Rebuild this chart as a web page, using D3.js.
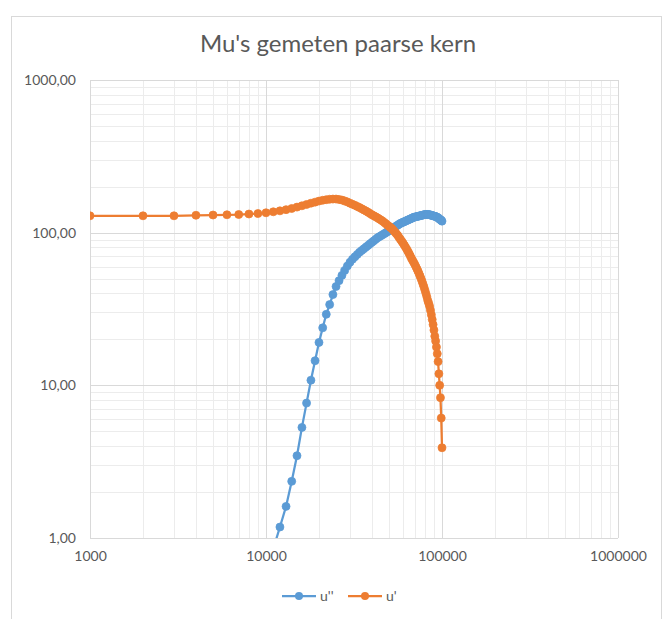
<!DOCTYPE html>
<html>
<head>
<meta charset="utf-8">
<script src="https://cdn.jsdelivr.net/npm/d3@7"></script>
<style>
  body { margin: 0; background: #ffffff; }
  text { font-family: Lato, "Liberation Sans", sans-serif; fill: #595959; }
</style>
</head>
<body>
<div id="chart"></div>
<script>
// frequency (x) and the two measured series
var freq = [
  1000, 2000, 3000, 4000, 5000, 6000, 7000, 8000, 9000, 10000,
  11000, 12000, 13000, 14000, 15000, 16000, 17000, 18000, 19000, 20000,
  21000, 22000, 23000, 24000, 25000, 26000, 27000, 28000, 29000, 30000,
  31000, 32000, 33000, 34000, 35000, 36000, 37000, 38000, 39000, 40000,
  41000, 42000, 43000, 44000, 45000, 46000, 47000, 48000, 49000, 50000,
  51000, 52000, 53000, 54000, 55000, 56000, 57000, 58000, 59000, 60000,
  61000, 62000, 63000, 64000, 65000, 66000, 67000, 68000, 69000, 70000,
  71000, 72000, 73000, 74000, 75000, 76000, 77000, 78000, 79000, 80000,
  81000, 82000, 83000, 84000, 85000, 86000, 87000, 88000, 89000, 90000,
  91000, 92000, 93000, 94000, 95000, 96000, 97000, 98000, 99000, 100000
];

var muDouble = [
  null, null, null, null, null, null, null, null, null, null,
  0.85, 1.18, 1.61, 2.35, 3.46, 5.3, 7.65, 10.8, 14.5, 19.1,
  23.8, 29.2, 33.8, 39.3, 44.4, 48.5, 52.5, 56.5, 60.5, 64,
  67, 69.5, 72, 74.5, 76.5, 78.5, 80.5, 82.5, 84.5, 86.5,
  88.5, 90.5, 92.5, 94, 95.5, 97, 98.5, 100, 101.5, 103,
  104.5, 106, 107.5, 109, 110.5, 112, 113.5, 115, 116, 117,
  118, 119, 120, 121, 122, 123, 124, 125, 126, 126.5,
  127, 127.5, 128, 128.5, 129, 129.5, 130, 130.5, 131, 131.5,
  131.5, 131.5, 131.5, 131.5, 131, 130.5, 130, 129.5, 129, 128.5,
  128, 127.5, 127, 126, 125, 124, 122.5, 121.5, 120.5, 119
];

var muSingle = [
  129, 129, 129, 130, 130.5, 131, 131.5, 132.5, 133.5, 135,
  137, 139, 141.5, 144, 147, 150, 153, 156, 158.5, 161,
  163, 164.5, 165.5, 166, 166, 165, 163.5, 161.5, 159, 156,
  153.5, 151, 148.5, 146, 143.5, 141, 138.5, 136, 133.5, 131,
  129, 127, 125, 123, 121, 119, 116.5, 114.5, 112, 110,
  108, 106, 103.5, 101, 98.5, 96, 93, 90.5, 88, 85.5,
  83, 80.5, 78, 75.5, 73, 70.5, 68, 66, 64, 62,
  60, 58, 56, 54, 52, 50, 48, 46, 44, 42,
  40, 38, 36, 34.5, 33, 31, 29, 27, 25, 23,
  21, 19.5, 17.8, 16.1, 14.3, 11.9, 10, 8.3, 6.1, 3.9
];

var xTicks = [1000, 10000, 100000, 1000000];
var yTicks = [1, 10, 100, 1000];
var seriesNames = ["u''", "u'"];
var seriesColors = ["#5b9bd5", "#ed7d31"];

var svgWidth = 664;
var svgHeight = 619;

var margin = { top: 80, right: 46, bottom: 81, left: 90 };
var width = svgWidth - margin.left - margin.right;
var height = svgHeight - margin.top - margin.bottom;

var svg = d3.select("#chart")
    .append("svg")
    .attr("width", svgWidth)
    .attr("height", svgHeight);

// chart area border
svg.append("rect")
    .attr("x", 11.5)
    .attr("y", 16.5)
    .attr("width", 650)
    .attr("height", 620)
    .attr("fill", "#ffffff")
    .attr("stroke", "#d9d9d9");

svg.append("text")
    .attr("x", 338)
    .attr("y", 52)
    .attr("text-anchor", "middle")
    .attr("font-size", "24px")
    .text("Mu's gemeten paarse kern");

var chartGroup = svg.append("g")
    .attr("transform", `translate(${margin.left}, ${margin.top})`);

var xLogScale = d3.scaleLog().domain([1000, 1000000]).range([0, width]);
var yLogScale = d3.scaleLog().domain([1, 1000]).range([height, 0]);

// minor gridlines
var xMinor = xLogScale.ticks().filter(d => xTicks.indexOf(d) < 0);
var yMinor = yLogScale.ticks().filter(d => yTicks.indexOf(d) < 0);

chartGroup.selectAll(".xminor").data(xMinor).enter()
    .append("line")
    .attr("x1", d => Math.round(xLogScale(d)) + 0.5)
    .attr("x2", d => Math.round(xLogScale(d)) + 0.5)
    .attr("y1", 0)
    .attr("y2", height)
    .attr("stroke", "#ececec");

chartGroup.selectAll(".yminor").data(yMinor).enter()
    .append("line")
    .attr("y1", d => Math.round(yLogScale(d)) + 0.5)
    .attr("y2", d => Math.round(yLogScale(d)) + 0.5)
    .attr("x1", 0)
    .attr("x2", width)
    .attr("stroke", "#ececec");

// major gridlines
chartGroup.selectAll(".xmajor").data(xTicks).enter()
    .append("line")
    .attr("x1", d => Math.round(xLogScale(d)) + 0.5)
    .attr("x2", d => Math.round(xLogScale(d)) + 0.5)
    .attr("y1", 0)
    .attr("y2", height)
    .attr("stroke", "#d9d9d9");

chartGroup.selectAll(".ymajor").data(yTicks).enter()
    .append("line")
    .attr("y1", d => Math.round(yLogScale(d)) + 0.5)
    .attr("y2", d => Math.round(yLogScale(d)) + 0.5)
    .attr("x1", 0)
    .attr("x2", width)
    .attr("stroke", "#d9d9d9");

// axes (labels only)
var bottomAxis = d3.axisBottom(xLogScale)
    .tickValues(xTicks)
    .tickSize(0)
    .tickPadding(13)
    .tickFormat(d3.format("d"));
var leftAxis = d3.axisLeft(yLogScale)
    .tickValues(yTicks)
    .tickSize(0)
    .tickPadding(14)
    .tickFormat(d => d.toFixed(2).replace(".", ","));

var xAxisG = chartGroup.append("g")
    .attr("transform", `translate(0, ${height})`)
    .call(bottomAxis);
var yAxisG = chartGroup.append("g")
    .call(leftAxis);

[xAxisG, yAxisG].forEach(function(g) {
    g.select(".domain").remove();
    g.selectAll("text")
        .attr("fill", "#595959")
        .style("font-family", "Lato, 'Liberation Sans', sans-serif")
        .style("font-size", "14px");
});

// clip to plot area
chartGroup.append("clipPath")
    .attr("id", "plotClip")
    .append("rect")
    .attr("x", 0)
    .attr("y", 0)
    .attr("width", width)
    .attr("height", height);

var plot = chartGroup.append("g").attr("clip-path", "url(#plotClip)");

var series = [muDouble, muSingle];

series.forEach(function(vals, i) {
    var pts = freq.map((f, j) => ({ x: f, y: vals[j] })).filter(d => d.y != null);

    var line = d3.line()
        .x(d => xLogScale(d.x))
        .y(d => yLogScale(d.y));

    plot.append("path")
        .datum(pts)
        .attr("d", line)
        .attr("fill", "none")
        .attr("stroke", seriesColors[i])
        .attr("stroke-width", 2.25)
        .attr("stroke-linejoin", "round");

    plot.selectAll(".pt" + i).data(pts).enter()
        .append("circle")
        .attr("cx", d => xLogScale(d.x))
        .attr("cy", d => yLogScale(d.y))
        .attr("r", 4)
        .attr("fill", seriesColors[i])
        .attr("stroke", seriesColors[i])
        .attr("stroke-width", 0.75);
});

// legend
var legendX = [282, 348];
var legend = svg.append("g");
seriesNames.forEach(function(name, i) {
    var lx = legendX[i];
    legend.append("line")
        .attr("x1", lx)
        .attr("x2", lx + 34)
        .attr("y1", 596)
        .attr("y2", 596)
        .attr("stroke", seriesColors[i])
        .attr("stroke-width", 2.25);
    legend.append("circle")
        .attr("cx", lx + 17)
        .attr("cy", 596)
        .attr("r", 4)
        .attr("fill", seriesColors[i]);
    legend.append("text")
        .attr("x", lx + 38)
        .attr("y", 601)
        .attr("font-size", "14px")
        .text(name);
});
</script>
</body>
</html>
